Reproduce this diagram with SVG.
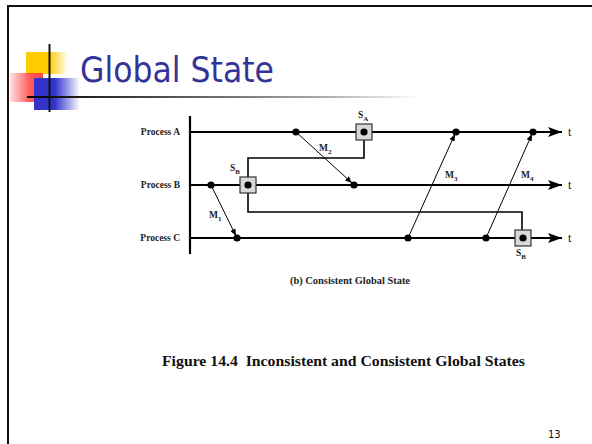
<svg xmlns="http://www.w3.org/2000/svg" width="592" height="444" viewBox="0 0 592 444">
<defs>
<linearGradient id="gY" x1="0" x2="1" y1="0" y2="0"><stop offset="0" stop-color="#ffcc00"/><stop offset="0.55" stop-color="#ffcc00"/><stop offset="1" stop-color="#ffcc00" stop-opacity="0"/></linearGradient>
<linearGradient id="gR" x1="0" x2="1" y1="0" y2="0"><stop offset="0" stop-color="#ff3333" stop-opacity="0.15"/><stop offset="0.6" stop-color="#ff3333" stop-opacity="0.8"/><stop offset="1" stop-color="#ff3333" stop-opacity="0.9"/></linearGradient>
<linearGradient id="gB" x1="0" x2="1" y1="0" y2="0"><stop offset="0" stop-color="#3333cc"/><stop offset="0.45" stop-color="#3333cc"/><stop offset="1" stop-color="#3333cc" stop-opacity="0"/></linearGradient>
<linearGradient id="gL" x1="27" x2="420" y1="0" y2="0" gradientUnits="userSpaceOnUse"><stop offset="0" stop-color="#000"/><stop offset="0.75" stop-color="#aaa"/><stop offset="1" stop-color="#fff"/></linearGradient>
<marker id="ah" viewBox="0 0 10 10" refX="10" refY="5" markerWidth="7" markerHeight="7" orient="auto" markerUnits="userSpaceOnUse"><path d="M0,1 L10,5 L0,9 Z" fill="#000"/></marker>
<marker id="tah" viewBox="0 0 14 10" refX="14" refY="5" markerWidth="14" markerHeight="10" orient="auto" markerUnits="userSpaceOnUse"><path d="M0,0 L14,5 L0,10 L3,5 Z" fill="#000"/></marker>
</defs>
<style>
.lbl{font-family:"Liberation Serif",serif;font-weight:bold;font-size:9.5px;fill:#222}
.sub{font-family:"Liberation Serif",serif;font-weight:bold;font-size:7px;fill:#222}
.t{font-family:"Liberation Serif",serif;font-size:12px;fill:#111}
.proc{stroke:#000;stroke-width:2;fill:none}
.cut{stroke:#000;stroke-width:1.6;fill:none}
.msg{stroke:#000;stroke-width:1;fill:none;marker-end:url(#ah)}
.dot{fill:#000}
.box{fill:#d8d8d8;stroke:#333;stroke-width:1.2}
</style>
<rect width="592" height="444" fill="#fff"/>
<g id="frame">
<line x1="8" y1="6" x2="592" y2="6" stroke="#111" stroke-width="2"/>
<line x1="8" y1="5" x2="8" y2="444" stroke="#111" stroke-width="2"/>
</g>
<g id="logo">
<rect x="26" y="52" width="42" height="22" fill="url(#gY)"/>
<rect x="10" y="73" width="33" height="29" fill="url(#gR)"/>
<rect x="34" y="78" width="46" height="32" fill="url(#gB)"/>
<line x1="49.5" y1="44" x2="49.5" y2="112" stroke="#111" stroke-width="2"/>
<line x1="27" y1="97" x2="420" y2="97" stroke="url(#gL)" stroke-width="2"/>
</g>
<text id="title" x="80" y="82" font-family="'DejaVu Sans',sans-serif" font-size="35" fill="#333399" textLength="194" lengthAdjust="spacingAndGlyphs">Global State</text>

<g id="axis"><line x1="190" y1="116" x2="190" y2="254" stroke="#000" stroke-width="2.2"/></g>
<g id="processA">
<line class="proc" x1="190" y1="132" x2="562" y2="132" marker-end="url(#tah)"/>
<text class="lbl" x="180" y="135" text-anchor="end">Process A</text>
<text class="t" x="568" y="136">t</text>
</g>
<g id="processB">
<line class="proc" x1="190" y1="185" x2="562" y2="185" marker-end="url(#tah)"/>
<text class="lbl" x="180" y="188" text-anchor="end">Process B</text>
<text class="t" x="568" y="189">t</text>
</g>
<g id="processC">
<line class="proc" x1="190" y1="238" x2="562" y2="238" marker-end="url(#tah)"/>
<text class="lbl" x="180" y="241" text-anchor="end">Process C</text>
<text class="t" x="568" y="242">t</text>
</g>

<g id="connectors">
<path class="cut" d="M248,177 V158 H364 V140"/>
<path class="cut" d="M248,193 V212 H522 V230"/>
<line class="msg" x1="211" y1="185" x2="236" y2="236"/>
<line class="msg" x1="296" y1="132" x2="352" y2="183"/>
<line class="msg" x1="408" y1="238" x2="455" y2="134"/>
<line class="msg" x1="486" y1="238" x2="532" y2="134"/>
<text class="lbl" x="209" y="218">M<tspan class="sub" dy="2.5">1</tspan></text>
<text class="lbl" x="319" y="151">M<tspan class="sub" dy="2.5">2</tspan></text>
<text class="lbl" x="445" y="178">M<tspan class="sub" dy="2.5">3</tspan></text>
<text class="lbl" x="521" y="178">M<tspan class="sub" dy="2.5">4</tspan></text>
</g>

<g id="eventsA">
<circle class="dot" cx="296" cy="132" r="3.6"/>
<circle class="dot" cx="456" cy="132" r="3.6"/>
<circle class="dot" cx="533" cy="132" r="3.6"/>
</g>
<g id="eventsB">
<circle class="dot" cx="211" cy="185" r="3.6"/>
<circle class="dot" cx="354" cy="185" r="3.6"/>
</g>
<g id="eventsC">
<circle class="dot" cx="237" cy="238" r="3.6"/>
<circle class="dot" cx="408" cy="238" r="3.6"/>
<circle class="dot" cx="486" cy="238" r="3.6"/>
</g>
<g id="SA">
<rect class="box" x="356" y="124" width="16" height="16"/>
<circle class="dot" cx="364" cy="132" r="3.6"/>
<text class="lbl" x="358" y="118">S<tspan class="sub" dy="2.5">A</tspan></text>
</g>
<g id="SB1">
<rect class="box" x="240" y="177" width="16" height="16"/>
<circle class="dot" cx="248" cy="185" r="3.6"/>
<text class="lbl" x="230" y="171">S<tspan class="sub" dy="2.5">B</tspan></text>
</g>
<g id="SB2">
<rect class="box" x="515" y="230" width="16" height="16"/>
<circle class="dot" cx="523" cy="238" r="3.6"/>
<text class="lbl" x="516" y="256">S<tspan class="sub" dy="2.5">B</tspan></text>
</g>

<text id="caption" x="290" y="284" font-family="'Liberation Serif',serif" font-weight="bold" font-size="9.5" fill="#222" textLength="120" lengthAdjust="spacingAndGlyphs">(b) Consistent Global State</text>
<text id="figure" x="162" y="366" font-family="'Liberation Serif',serif" font-weight="bold" font-size="14" fill="#111" textLength="363" lengthAdjust="spacingAndGlyphs" xml:space="preserve">Figure 14.4  Inconsistent and Consistent Global States</text>
<text id="page" x="548" y="438" font-family="'DejaVu Sans',sans-serif" font-size="10" fill="#111">13</text>
</svg>
